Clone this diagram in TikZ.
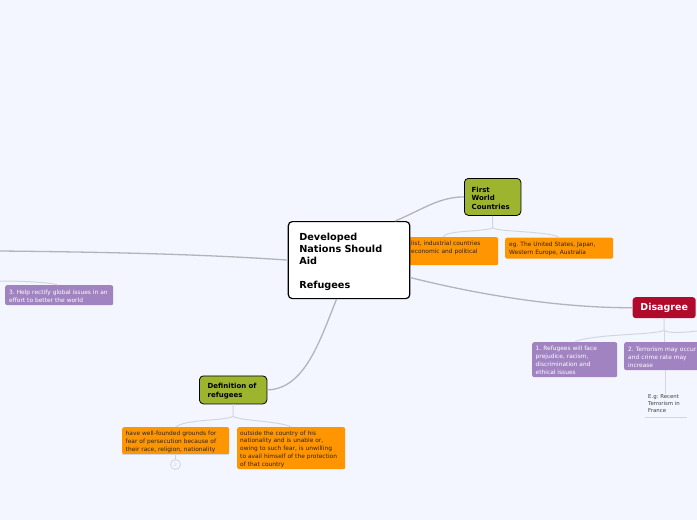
\documentclass[tikz,border=0pt]{standalone}
\usepackage{fontspec}
\setmainfont{DejaVu Sans}
\frenchspacing
\definecolor{bgc}{HTML}{F3F6FF}
\definecolor{olivec}{HTML}{9DB52E}
\definecolor{orangec}{HTML}{FF9500}
\definecolor{purplec}{HTML}{A183C2}
\definecolor{redc}{HTML}{B00A2C}
\definecolor{linec}{HTML}{B2B4BA}
\definecolor{palec}{HTML}{D3D6DE}
\tikzset{
  box/.style={rounded corners=2pt,anchor=north west,inner xsep=0pt,inner ysep=0pt,align=left},
  central/.style={box,draw=black,line width=1.2pt,fill=white,rounded corners=4pt,font=\fontsize{9.7}{12}\selectfont\bfseries,text=black,execute at begin node={\rule{0pt}{10pt}}},
  topic/.style={box,draw=black,line width=0.8pt,fill=olivec,rounded corners=4pt,font=\fontsize{7}{8.6}\selectfont\bfseries,text=black,execute at begin node={\rule{0pt}{7.5pt}}},
  orangebox/.style={box,fill=orangec,font=\fontsize{5.9}{7.9}\selectfont,text=black!85,execute at begin node={\rule{0pt}{6.5pt}}},
  purplebox/.style={box,fill=purplec,font=\fontsize{5.9}{8}\selectfont,text=white,execute at begin node={\rule{0pt}{5.8pt}}},
  redbox/.style={box,fill=redc,rounded corners=3pt,font=\fontsize{9.5}{12}\selectfont\bfseries,text=white},
  plain/.style={anchor=north west,inner sep=0pt,align=left,font=\fontsize{5.4}{7}\selectfont,text=black!75},
  mainline/.style={draw=linec,line width=1.3pt},
  subline/.style={draw=palec,line width=1pt},
}
\begin{document}
\begin{tikzpicture}[x=1pt,y=-1pt]
\useasboundingbox (0,0) rectangle (697,520);
\fill[bgc] (0,0) rectangle (697,520);
\clip (0,0) rectangle (697,520);
% free ends
\coordinate (leftend) at (0,251);
\coordinate (leftsub) at (0,281);
\coordinate (eline1) at (645,417);
\coordinate (eline2) at (687,417);
\coordinate (rightoff) at (697,331);
% leaves
\node[box,fill=orangec,minimum width=110pt,minimum height=28pt] (capital) at (388,237) {};
\node[orangebox,minimum width=108pt,minimum height=21pt,text width=100pt] (examples) at (505,237.5) {eg. The United States, Japan,\\Western Europe, Australia};
\node[orangebox,minimum width=107pt,minimum height=27pt,text width=100pt] (grounds) at (122,427) {have well-founded grounds for\\fear of persecution because of\\their race, religion, nationality};
\node[orangebox,minimum width=108pt,minimum height=42pt,text width=102pt] (outside) at (237,427) {outside the country of his\\nationality and is unable or,\\owing to such fear, is unwilling\\to avail himself of the protection\\of that country};
\node[purplebox,minimum width=108pt,minimum height=20pt,text width=100pt] (global) at (5,285) {3. Help rectify global issues in an\\effort to better the world};
\node[purplebox,minimum width=85pt,minimum height=35pt,text width=78pt] (prejudice) at (532,342) {1. Refugees will face\\prejudice, racism,\\discrimination and\\ethical issues};
\node[purplebox,minimum width=80pt,minimum height=28pt,text width=72pt] (terror) at (624,342) {2. Terrorism may occur\\and crime rate may\\increase};
\node[plain] (eg) at (648,394.5) {E.g: Recent\\Terrorism in\\France};
\node[anchor=north west,inner sep=0pt,font=\fontsize{5.9}{7.9}\selectfont,text=black!85,align=left] (capitaltext) at (411,241) {list, industrial countries\\economic and political};
% main nodes
\node[central,minimum width=121.5pt,minimum height=77pt,text width=99.5pt] (root) at (287.7,221) {Developed\\Nations Should\\Aid\\[12pt]Refugees};
\node[topic,minimum width=56.5pt,minimum height=37pt,text width=42pt] (first) at (464,178) {First\\World\\Countries};
\node[topic,minimum width=67.5pt,minimum height=28pt,text width=51pt] (defn) at (199,375.5) {Definition of\\refugees};
\node[redbox,minimum width=63pt,minimum height=21pt,align=center] (disagree) at (632.5,297) {Disagree};
\node[circle,draw=palec,line width=0.8pt,minimum size=10pt,inner sep=0pt,font=\fontsize{5}{6}\selectfont,text=palec] (note) at (175.5,464.5) {2};
% main connectors
\draw[mainline] (root.west) .. controls (200,254) and (100,252) .. (leftend);
\coordinate (rt) at ([xshift=-15pt]root.north east);
\draw[mainline] (rt) .. controls (425,208) and (440,197) .. (first.west);
\coordinate (rr) at ([yshift=-17.5pt]root.east);
\draw[mainline] (rr) .. controls (480,295) and (560,308) .. (disagree.west);
\coordinate (rb) at ([xshift=-12.5pt]root.south);
\draw[mainline] (rb) .. controls (320,340) and (305,389) .. (defn.east);
% sub connectors
\draw[subline] (leftsub) .. controls (20,281) and (48,282) .. (58,285);
\coordinate (firstdrop) at ([yshift=-12pt]first.south);
\draw[subline] (first.south) -- (firstdrop) .. controls (485,232) and (445,230) .. (capital.north);
\draw[subline] (firstdrop) .. controls (497,232) and (550,231) .. (examples.north);
\coordinate (defdrop) at ([yshift=-12pt]defn.south);
\draw[subline] (defn.south) -- (defdrop) .. controls (225,421) and (185,419) .. (grounds.north);
\draw[subline] (defdrop) .. controls (240,421) and (280,421) .. (outside.north);
\coordinate (disdrop) at ([yshift=-12pt]disagree.south);
\draw[subline] (disagree.south) -- (disdrop) .. controls (655,335) and (590,334) .. (prejudice.north);
\draw[subline] (disdrop) .. controls (668,333) and (680,333) .. (rightoff);
\draw[subline] (disdrop) -- (terror.north -| disdrop);
\coordinate (termtop) at (665.5,370);
\coordinate (termbot) at (665.5,394);
\draw[subline] (termtop) -- (termbot);
\draw[subline] (eline1) -- (eline2);
\draw[subline] (grounds.south west) -- (grounds.south east);
\draw[subline] (grounds.south -| note) -- (note.north);
\end{tikzpicture}
\end{document}
